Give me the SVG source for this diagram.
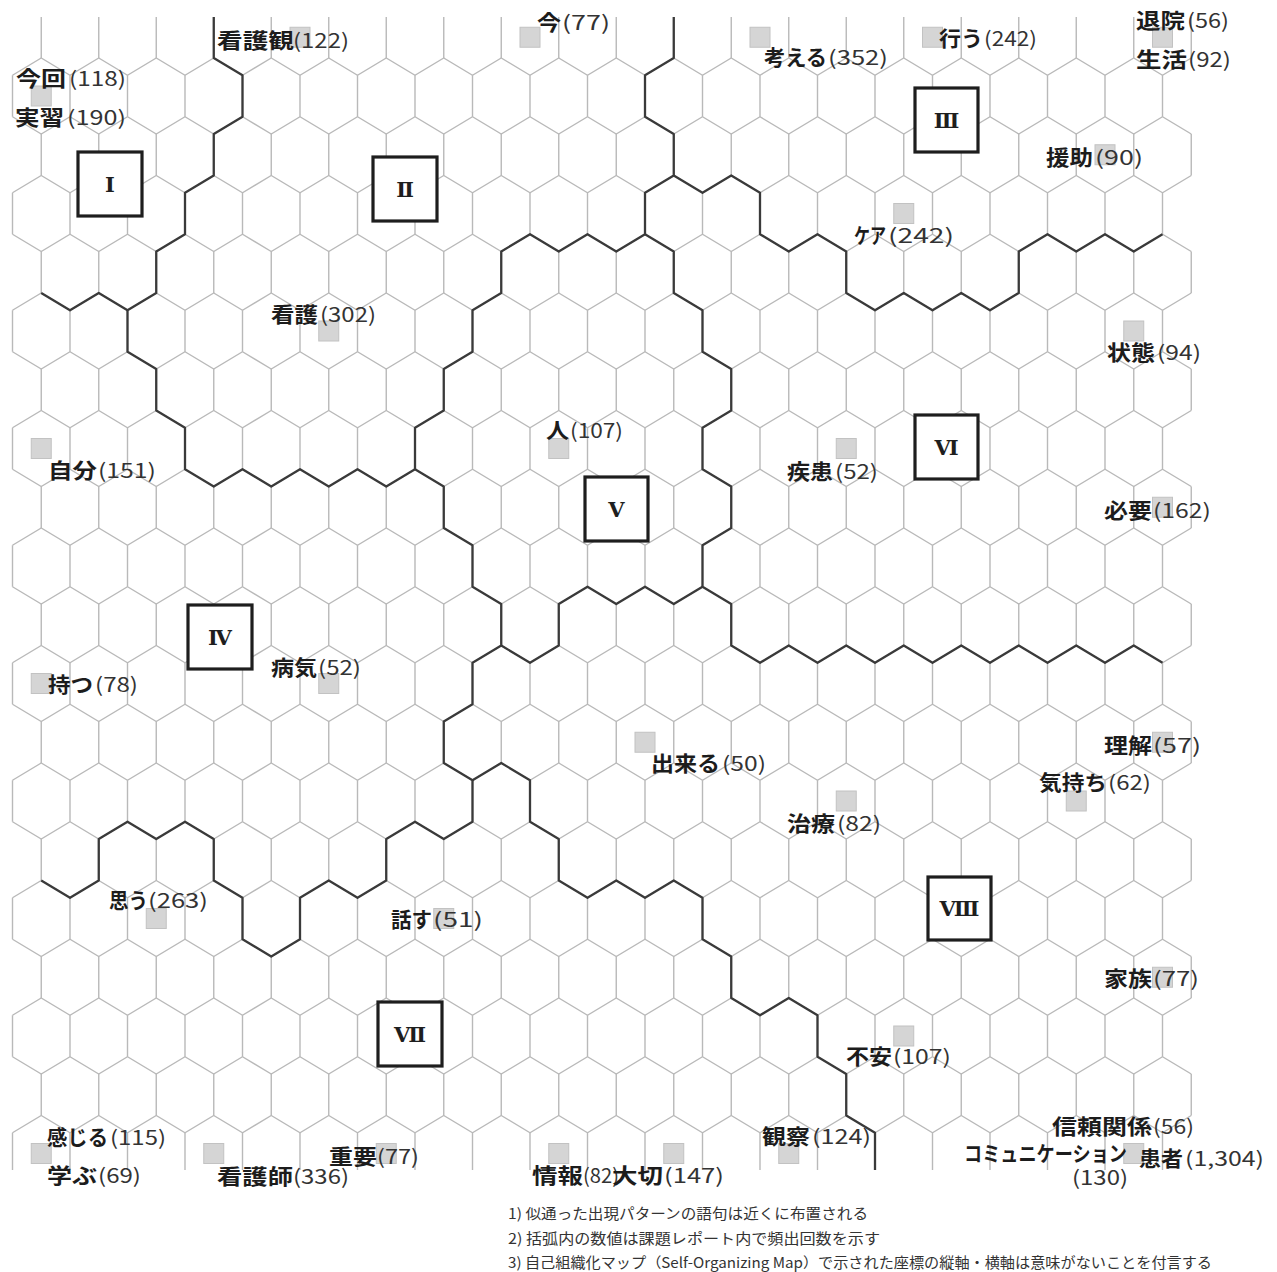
<svg xmlns="http://www.w3.org/2000/svg" xmlns:xlink="http://www.w3.org/1999/xlink" width="1277" height="1272" viewBox="0 0 1277 1272">
<style>
.grid{fill:none;stroke:#b9b9b9;stroke-width:1.4}
.bd{fill:none;stroke:#3a3a3a;stroke-width:2.3;stroke-linejoin:round}
.sq{fill:#d5d5d5;stroke:#c2c2c2;stroke-width:1}
.k{font-family:'Noto Sans CJK JP','Noto Sans CJK SC',sans-serif;font-size:21px;font-weight:bold;fill:#1c1c1c}
.n{font-family:'Noto Sans CJK JP','Noto Sans CJK SC',sans-serif;font-size:20px;font-weight:normal;fill:#333}
.box{fill:#fff;stroke:#1e1e1e;stroke-width:3.2}
.rn{font-family:'DejaVu Serif','Noto Sans CJK JP',serif;font-size:21px;font-weight:bold;fill:#1e1e1e;text-anchor:middle}
.fn{font-family:'Noto Sans CJK JP','Noto Sans CJK SC',sans-serif;font-size:14.5px;fill:#333}
</style>
<defs>
<clipPath id="clip"><rect x="0" y="17" width="1277" height="1153"/></clipPath>
<path id="zA" d="M12.5 17.25l28.75-17.25 28.75 17.25 28.75-17.25 28.75 17.25 28.75-17.25 28.75 17.25 28.75-17.25 28.75 17.25 28.75-17.25 28.75 17.25 28.75-17.25 28.75 17.25 28.75-17.25 28.75 17.25 28.75-17.25 28.75 17.25 28.75-17.25 28.75 17.25 28.75-17.25 28.75 17.25 28.75-17.25 28.75 17.25 28.75-17.25 28.75 17.25 28.75-17.25 28.75 17.25 28.75-17.25 28.75 17.25 28.75-17.25 28.75 17.25 28.75-17.25 28.75 17.25 28.75-17.25 28.75 17.25 28.75-17.25 28.75 17.25 28.75-17.25 28.75 17.25 28.75-17.25 28.75 17.25 28.75-17.25"/>
<path id="zB" d="M12.5 0l28.75 17.25 28.75-17.25 28.75 17.25 28.75-17.25 28.75 17.25 28.75-17.25 28.75 17.25 28.75-17.25 28.75 17.25 28.75-17.25 28.75 17.25 28.75-17.25 28.75 17.25 28.75-17.25 28.75 17.25 28.75-17.25 28.75 17.25 28.75-17.25 28.75 17.25 28.75-17.25 28.75 17.25 28.75-17.25 28.75 17.25 28.75-17.25 28.75 17.25 28.75-17.25 28.75 17.25 28.75-17.25 28.75 17.25 28.75-17.25 28.75 17.25 28.75-17.25 28.75 17.25 28.75-17.25 28.75 17.25 28.75-17.25 28.75 17.25 28.75-17.25 28.75 17.25 28.75-17.25 28.75 17.25"/>
<path id="vE" d="M41.25 0v41.5m57.5-41.5v41.5m57.5-41.5v41.5m57.5-41.5v41.5m57.5-41.5v41.5m57.5-41.5v41.5m57.5-41.5v41.5m57.5-41.5v41.5m57.5-41.5v41.5m57.5-41.5v41.5m57.5-41.5v41.5m57.5-41.5v41.5m57.5-41.5v41.5m57.5-41.5v41.5m57.5-41.5v41.5m57.5-41.5v41.5m57.5-41.5v41.5m57.5-41.5v41.5m57.5-41.5v41.5m57.5-41.5v41.5m57.5-41.5v41.5"/>
<path id="vO" d="M12.5 0v41.5m57.5-41.5v41.5m57.5-41.5v41.5m57.5-41.5v41.5m57.5-41.5v41.5m57.5-41.5v41.5m57.5-41.5v41.5m57.5-41.5v41.5m57.5-41.5v41.5m57.5-41.5v41.5m57.5-41.5v41.5m57.5-41.5v41.5m57.5-41.5v41.5m57.5-41.5v41.5m57.5-41.5v41.5m57.5-41.5v41.5m57.5-41.5v41.5m57.5-41.5v41.5m57.5-41.5v41.5m57.5-41.5v41.5m57.5-41.5v41.5"/>
</defs>
<rect width="1277" height="1272" fill="#fff"/>
<g id="hex-grid" class="grid" clip-path="url(#clip)">
<use xlink:href="#vE" y="16.5"/><use xlink:href="#zA" y="58"/>
<use xlink:href="#vO" y="75.25"/><use xlink:href="#zB" y="116.75"/>
<use xlink:href="#vE" y="134"/><use xlink:href="#zA" y="175.5"/>
<use xlink:href="#vO" y="192.75"/><use xlink:href="#zB" y="234.25"/>
<use xlink:href="#vE" y="251.5"/><use xlink:href="#zA" y="293"/>
<use xlink:href="#vO" y="310.25"/><use xlink:href="#zB" y="351.75"/>
<use xlink:href="#vE" y="369"/><use xlink:href="#zA" y="410.5"/>
<use xlink:href="#vO" y="427.75"/><use xlink:href="#zB" y="469.25"/>
<use xlink:href="#vE" y="486.5"/><use xlink:href="#zA" y="528"/>
<use xlink:href="#vO" y="545.25"/><use xlink:href="#zB" y="586.75"/>
<use xlink:href="#vE" y="604"/><use xlink:href="#zA" y="645.5"/>
<use xlink:href="#vO" y="662.75"/><use xlink:href="#zB" y="704.25"/>
<use xlink:href="#vE" y="721.5"/><use xlink:href="#zA" y="763"/>
<use xlink:href="#vO" y="780.25"/><use xlink:href="#zB" y="821.75"/>
<use xlink:href="#vE" y="839"/><use xlink:href="#zA" y="880.5"/>
<use xlink:href="#vO" y="897.75"/><use xlink:href="#zB" y="939.25"/>
<use xlink:href="#vE" y="956.5"/><use xlink:href="#zA" y="998"/>
<use xlink:href="#vO" y="1015.25"/><use xlink:href="#zB" y="1056.75"/>
<use xlink:href="#vE" y="1074"/><use xlink:href="#zA" y="1115.5"/>
<use xlink:href="#vO" y="1132.75"/>
</g>
<g id="connectors" class="bd" clip-path="url(#clip)">
<path d="M213.75 17V58L242.5 75.25V116.75L213.75 134V175.5L185 192.75V234.25L156.25 251.5V293L127.5 310.25V351.75L156.25 369V410.5L185 427.75V469.25L213.75 486.5L242.5 469.25L271.25 486.5L300 469.25L328.75 486.5L357.5 469.25L386.25 486.5L415 469.25L443.75 486.5V528L472.5 545.25V586.75L501.25 604V645.5L472.5 662.75V704.25L443.75 721.5V763L472.5 780.25V821.75L443.75 839L415 821.75L386.25 839V880.5L357.5 897.75L328.75 880.5L300 897.75V939.25L271.25 956.5L242.5 939.25V897.75L213.75 880.5V839L185 821.75L156.25 839L127.5 821.75L98.75 839V880.5L70 897.75L41.25 880.5"/>
<path d="M41.25 293L70 310.25L98.75 293L127.5 310.25"/>
<path d="M673.75 17V58L645 75.25V116.75L673.75 134V175.5L645 192.75V234.25L616.25 251.5L587.5 234.25L558.75 251.5L530 234.25L501.25 251.5V293L472.5 310.25V351.75L443.75 369V410.5L415 427.75V469.25"/>
<path d="M673.75 175.5L702.5 192.75L731.25 175.5L760 192.75V234.25L788.75 251.5L817.5 234.25L846.25 251.5V293L875 310.25L903.75 293L932.5 310.25L961.25 293L990 310.25L1018.75 293V251.5L1047.5 234.25L1076.25 251.5L1105 234.25L1133.75 251.5L1162.5 234.25"/>
<path d="M645 234.25L673.75 251.5V293L702.5 310.25V351.75L731.25 369V410.5L702.5 427.75V469.25L731.25 486.5V528L702.5 545.25V586.75L731.25 604V645.5L760 662.75L788.75 645.5L817.5 662.75L846.25 645.5L875 662.75L903.75 645.5L932.5 662.75L961.25 645.5L990 662.75L1018.75 645.5L1047.5 662.75L1076.25 645.5L1105 662.75L1133.75 645.5L1162.5 662.75"/>
<path d="M501.25 645.5L530 662.75L558.75 645.5V604L587.5 586.75L616.25 604L645 586.75L673.75 604L702.5 586.75"/>
<path d="M472.5 780.25L501.25 763L530 780.25V821.75L558.75 839V880.5L587.5 897.75L616.25 880.5L645 897.75L673.75 880.5L702.5 897.75V939.25L731.25 956.5V998L760 1015.25L788.75 998L817.5 1015.25V1056.75L846.25 1074V1115.5L875 1132.75V1170"/>
</g>
<g id="clusters">
<g id="cluster-1"><rect class="box" x="78" y="152" width="64" height="64"/><text class="rn" x="110" y="192">Ⅰ</text></g>
<g id="cluster-2"><rect class="box" x="373" y="157" width="64" height="64"/><text class="rn" x="405" y="197">Ⅱ</text></g>
<g id="cluster-3"><rect class="box" x="915" y="88" width="63" height="64"/><text class="rn" x="946.5" y="128">Ⅲ</text></g>
<g id="cluster-4"><rect class="box" x="188" y="605" width="64" height="64"/><text class="rn" x="220" y="645">Ⅳ</text></g>
<g id="cluster-5"><rect class="box" x="585" y="477" width="63" height="64"/><text class="rn" x="616.5" y="517">Ⅴ</text></g>
<g id="cluster-6"><rect class="box" x="915" y="415" width="63" height="64"/><text class="rn" x="946.5" y="455">Ⅵ</text></g>
<g id="cluster-7"><rect class="box" x="378" y="1002" width="64" height="64"/><text class="rn" x="410" y="1042">Ⅶ</text></g>
<g id="cluster-8"><rect class="box" x="928" y="877" width="63" height="63"/><text class="rn" x="959.5" y="916">Ⅷ</text></g>
</g>
<g id="nodes">
<g id="n-kangokan"><rect class="sq" x="290" y="27.25" width="20" height="20"/><text class="k" x="217" y="48" textLength="77" lengthAdjust="spacingAndGlyphs">看護観</text><text class="n" x="293" y="48" textLength="56" lengthAdjust="spacingAndGlyphs">(122)</text></g>
<g id="n-ima"><rect class="sq" x="520" y="27.25" width="20" height="20"/><text class="k" x="537" y="30" textLength="24" lengthAdjust="spacingAndGlyphs">今</text><text class="n" x="562" y="30" textLength="48" lengthAdjust="spacingAndGlyphs">(77)</text></g>
<g id="n-kangaeru"><rect class="sq" x="750" y="27.25" width="20" height="20"/><text class="k" x="764" y="65" textLength="63" lengthAdjust="spacingAndGlyphs">考える</text><text class="n" x="828" y="65" textLength="60" lengthAdjust="spacingAndGlyphs">(352)</text></g>
<g id="n-okonau"><rect class="sq" x="922.5" y="27.25" width="20" height="20"/><text class="k" x="939" y="46" textLength="44" lengthAdjust="spacingAndGlyphs">行う</text><text class="n" x="984" y="46" textLength="53" lengthAdjust="spacingAndGlyphs">(242)</text></g>
<g id="n-taiin-seikatsu"><rect class="sq" x="1152.5" y="27.25" width="20" height="20"/><text class="k" x="1136" y="28" textLength="49" lengthAdjust="spacingAndGlyphs">退院</text><text class="n" x="1187" y="28" textLength="42" lengthAdjust="spacingAndGlyphs">(56)</text><text class="k" x="1136" y="67" textLength="51" lengthAdjust="spacingAndGlyphs">生活</text><text class="n" x="1188" y="67" textLength="43" lengthAdjust="spacingAndGlyphs">(92)</text></g>
<g id="n-konkai-jisshu"><rect class="sq" x="31.25" y="86" width="20" height="20"/><text class="k" x="16" y="86" textLength="50" lengthAdjust="spacingAndGlyphs">今回</text><text class="n" x="69" y="86" textLength="57" lengthAdjust="spacingAndGlyphs">(118)</text><text class="k" x="15" y="125" textLength="49" lengthAdjust="spacingAndGlyphs">実習</text><text class="n" x="67" y="125" textLength="59" lengthAdjust="spacingAndGlyphs">(190)</text></g>
<g id="n-enjo"><rect class="sq" x="1095" y="144.75" width="20" height="20"/><text class="k" x="1046" y="165" textLength="47" lengthAdjust="spacingAndGlyphs">援助</text><text class="n" x="1095" y="165" textLength="48" lengthAdjust="spacingAndGlyphs">(90)</text></g>
<g id="n-care"><rect class="sq" x="893.75" y="203.5" width="20" height="20"/><text class="k" x="854" y="243" textLength="32" lengthAdjust="spacingAndGlyphs">ケア</text><text class="n" x="888" y="243" textLength="66" lengthAdjust="spacingAndGlyphs">(242)</text></g>
<g id="n-kango"><rect class="sq" x="318.75" y="321" width="20" height="20"/><text class="k" x="271" y="322" textLength="47" lengthAdjust="spacingAndGlyphs">看護</text><text class="n" x="320" y="322" textLength="56" lengthAdjust="spacingAndGlyphs">(302)</text></g>
<g id="n-jotai"><rect class="sq" x="1123.75" y="321" width="20" height="20"/><text class="k" x="1107" y="360" textLength="48" lengthAdjust="spacingAndGlyphs">状態</text><text class="n" x="1157" y="360" textLength="44" lengthAdjust="spacingAndGlyphs">(94)</text></g>
<g id="n-hito"><rect class="sq" x="548.75" y="438.5" width="20" height="20"/><text class="k" x="546" y="438" textLength="23" lengthAdjust="spacingAndGlyphs">人</text><text class="n" x="570" y="438" textLength="53" lengthAdjust="spacingAndGlyphs">(107)</text></g>
<g id="n-shikkan"><rect class="sq" x="836.25" y="438.5" width="20" height="20"/><text class="k" x="787" y="479" textLength="46" lengthAdjust="spacingAndGlyphs">疾患</text><text class="n" x="835" y="479" textLength="43" lengthAdjust="spacingAndGlyphs">(52)</text></g>
<g id="n-jibun"><rect class="sq" x="31.25" y="438.5" width="20" height="20"/><text class="k" x="48" y="478" textLength="49" lengthAdjust="spacingAndGlyphs">自分</text><text class="n" x="98" y="478" textLength="58" lengthAdjust="spacingAndGlyphs">(151)</text></g>
<g id="n-hitsuyo"><rect class="sq" x="1152.5" y="497.25" width="20" height="20"/><text class="k" x="1104" y="518" textLength="48" lengthAdjust="spacingAndGlyphs">必要</text><text class="n" x="1153" y="518" textLength="58" lengthAdjust="spacingAndGlyphs">(162)</text></g>
<g id="n-motsu"><rect class="sq" x="31.25" y="673.5" width="20" height="20"/><text class="k" x="48" y="692" textLength="45" lengthAdjust="spacingAndGlyphs">持つ</text><text class="n" x="95" y="692" textLength="43" lengthAdjust="spacingAndGlyphs">(78)</text></g>
<g id="n-byoki"><rect class="sq" x="318.75" y="673.5" width="20" height="20"/><text class="k" x="271" y="675" textLength="46" lengthAdjust="spacingAndGlyphs">病気</text><text class="n" x="318" y="675" textLength="43" lengthAdjust="spacingAndGlyphs">(52)</text></g>
<g id="n-dekiru"><rect class="sq" x="635" y="732.25" width="20" height="20"/><text class="k" x="651" y="771" textLength="69" lengthAdjust="spacingAndGlyphs">出来る</text><text class="n" x="722" y="771" textLength="44" lengthAdjust="spacingAndGlyphs">(50)</text></g>
<g id="n-rikai"><rect class="sq" x="1152.5" y="732.25" width="20" height="20"/><text class="k" x="1104" y="753" textLength="48" lengthAdjust="spacingAndGlyphs">理解</text><text class="n" x="1153" y="753" textLength="48" lengthAdjust="spacingAndGlyphs">(57)</text></g>
<g id="n-kimochi"><rect class="sq" x="1066.25" y="791" width="20" height="20"/><text class="k" x="1039" y="790" textLength="68" lengthAdjust="spacingAndGlyphs">気持ち</text><text class="n" x="1108" y="790" textLength="43" lengthAdjust="spacingAndGlyphs">(62)</text></g>
<g id="n-chiryo"><rect class="sq" x="836.25" y="791" width="20" height="20"/><text class="k" x="787" y="831" textLength="48" lengthAdjust="spacingAndGlyphs">治療</text><text class="n" x="837" y="831" textLength="44" lengthAdjust="spacingAndGlyphs">(82)</text></g>
<g id="n-omou"><rect class="sq" x="146.25" y="908.5" width="20" height="20"/><text class="k" x="109" y="908" textLength="39" lengthAdjust="spacingAndGlyphs">思う</text><text class="n" x="148" y="908" textLength="60" lengthAdjust="spacingAndGlyphs">(263)</text></g>
<g id="n-hanasu"><rect class="sq" x="433.75" y="908.5" width="20" height="20"/><text class="k" x="391" y="927" textLength="41" lengthAdjust="spacingAndGlyphs">話す</text><text class="n" x="433" y="927" textLength="50" lengthAdjust="spacingAndGlyphs">(51)</text></g>
<g id="n-kazoku"><rect class="sq" x="1152.5" y="967.25" width="20" height="20"/><text class="k" x="1104" y="986" textLength="48" lengthAdjust="spacingAndGlyphs">家族</text><text class="n" x="1153" y="986" textLength="46" lengthAdjust="spacingAndGlyphs">(77)</text></g>
<g id="n-fuan"><rect class="sq" x="893.75" y="1026" width="20" height="20"/><text class="k" x="846" y="1064" textLength="46" lengthAdjust="spacingAndGlyphs">不安</text><text class="n" x="893" y="1064" textLength="58" lengthAdjust="spacingAndGlyphs">(107)</text></g>
<g id="n-kanjiru-manabu"><rect class="sq" x="31.25" y="1143.5" width="20" height="20"/><text class="k" x="47" y="1145" textLength="61" lengthAdjust="spacingAndGlyphs">感じる</text><text class="n" x="110" y="1145" textLength="56" lengthAdjust="spacingAndGlyphs">(115)</text><text class="k" x="47" y="1183" textLength="50" lengthAdjust="spacingAndGlyphs">学ぶ</text><text class="n" x="98" y="1183" textLength="43" lengthAdjust="spacingAndGlyphs">(69)</text></g>
<g id="n-kangoshi"><rect class="sq" x="203.75" y="1143.5" width="20" height="20"/><text class="k" x="217" y="1184" textLength="76" lengthAdjust="spacingAndGlyphs">看護師</text><text class="n" x="293" y="1184" textLength="56" lengthAdjust="spacingAndGlyphs">(336)</text></g>
<g id="n-juyo"><rect class="sq" x="376.25" y="1143.5" width="20" height="20"/><text class="k" x="329" y="1164" textLength="48" lengthAdjust="spacingAndGlyphs">重要</text><text class="n" x="377" y="1164" textLength="42" lengthAdjust="spacingAndGlyphs">(77)</text></g>
<g id="n-joho"><rect class="sq" x="548.75" y="1143.5" width="20" height="20"/><text class="k" x="532" y="1183" textLength="51" lengthAdjust="spacingAndGlyphs">情報</text><text class="n" x="583" y="1183" textLength="36" lengthAdjust="spacingAndGlyphs">(82)</text></g>
<g id="n-taisetsu"><rect class="sq" x="663.75" y="1143.5" width="20" height="20"/><text class="k" x="612" y="1183" textLength="51" lengthAdjust="spacingAndGlyphs">大切</text><text class="n" x="664" y="1183" textLength="60" lengthAdjust="spacingAndGlyphs">(147)</text></g>
<g id="n-kansatsu"><rect class="sq" x="778.75" y="1143.5" width="20" height="20"/><text class="k" x="762" y="1144" textLength="48" lengthAdjust="spacingAndGlyphs">観察</text><text class="n" x="812" y="1144" textLength="59" lengthAdjust="spacingAndGlyphs">(124)</text></g>
<g id="n-kanja"><rect class="sq" x="1123.75" y="1143.5" width="20" height="20"/><text class="k" x="1052" y="1134" textLength="100" lengthAdjust="spacingAndGlyphs">信頼関係</text><text class="n" x="1153" y="1134" textLength="41" lengthAdjust="spacingAndGlyphs">(56)</text><text class="k" x="964" y="1161" textLength="163" lengthAdjust="spacingAndGlyphs">コミュニケーション</text><text class="n" x="1072" y="1185" textLength="56" lengthAdjust="spacingAndGlyphs">(130)</text><text class="k" x="1139" y="1166" textLength="44" lengthAdjust="spacingAndGlyphs">患者</text><text class="n" x="1185" y="1166" textLength="79" lengthAdjust="spacingAndGlyphs">(1,304)</text></g>
</g>
<g id="notes">
<text class="fn" x="508" y="1219" textLength="360" lengthAdjust="spacingAndGlyphs">1) 似通った出現パターンの語句は近くに布置される</text>
<text class="fn" x="508" y="1244" textLength="372" lengthAdjust="spacingAndGlyphs">2) 括弧内の数値は課題レポート内で頻出回数を示す</text>
<text class="fn" x="508" y="1268" textLength="704" lengthAdjust="spacingAndGlyphs">3) 自己組織化マップ（Self-Organizing Map）で示された座標の縦軸・横軸は意味がないことを付言する</text>
</g>
</svg>
